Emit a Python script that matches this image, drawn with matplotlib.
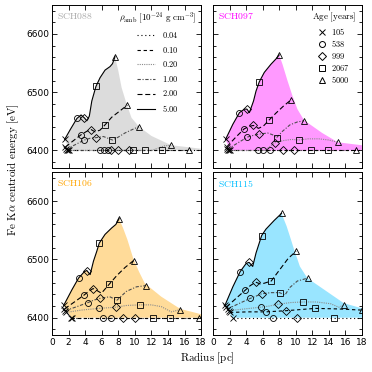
import matplotlib
matplotlib.use('Agg')
import matplotlib.pyplot as plt
from matplotlib.ticker import MultipleLocator

plt.rcParams['mathtext.fontset'] = 'cm'
plt.rcParams['font.size'] = 6.5

DENSITIES = ['0.04', '0.10', '0.20', '1.00', '2.00', '5.00']
AGES = ['105', '538', '999', '2067', '5000']
MARKERS = ['x', 'o', 'D', 's', '^']
MODELS = ['SCH088', 'SCH097', 'SCH106', 'SCH115']
MODEL_COLORS = ['darkgray', 'magenta', 'orange', 'deepskyblue']

# curves: density -> (radius [pc], centroid [eV])
SCH088_CURVES = {
    '5.00': ([1.52, 2.2, 3.0, 3.5, 3.9, 4.2, 4.5, 4.8, 5.3, 5.8, 6.4, 7.0, 7.3, 7.6],
             [6419, 6436, 6455, 6461, 6456, 6451, 6459, 6485, 6510, 6525, 6538, 6544, 6549, 6561]),
    '2.00': ([1.6, 2.5, 3.5, 4.2, 4.7, 5.2, 5.8, 6.4, 7.2, 8.2, 9.1],
             [6406, 6416, 6427, 6433, 6436, 6432, 6435, 6444, 6457, 6468, 6478]),
    '1.00': ([1.7, 2.8, 3.9, 4.6, 5.3, 6.2, 7.3, 8.0, 8.8, 9.7, 10.5],
             [6402, 6410, 6418, 6421, 6422, 6424, 6418, 6423, 6430, 6436, 6441]),
    '0.20': ([1.8, 12.0, 12.8, 13.6, 14.4], [6400, 6400, 6404, 6408, 6409]),
    '0.10': ([1.95, 16.5], [6400, 6400]),
    '0.04': ([2.1, 18.5], [6400, 6400]),
}
SCH088_MARKS = {
    '5.00': ([1.52, 3.0, 3.9, 5.3, 7.6], [6419, 6455, 6456, 6510, 6561]),
    '2.00': ([1.6, 3.5, 4.7, 6.4, 9.1], [6406, 6427, 6436, 6444, 6478]),
    '1.00': ([1.7, 3.9, 5.3, 7.3, 10.5], [6402, 6418, 6422, 6418, 6441]),
    '0.20': ([1.8, 5.8, 7.1, 9.8, 14.4], [6400, 6400, 6400, 6400, 6409]),
    '0.10': ([1.95, 6.3, 8.0, 11.2, 16.5], [6400, 6400, 6400, 6400, 6400]),
    '0.04': ([2.1, 6.8, 9.3, 13.3, 19.5], [6400, 6400, 6400, 6400, 6400]),
}
SCH088_EDGE = ([8.0, 8.4, 9.0, 9.6, 10.5, 12.0, 14.4, 18.0],
               [6537, 6508, 6480, 6456, 6441, 6425, 6409, 6403])

SCH097_CURVES = {
    '5.00': ([1.52, 2.4, 3.2, 3.8, 4.1, 4.4, 4.9, 5.2, 5.6, 6.2, 7.0, 7.6, 8.0],
             [6419, 6445, 6465, 6471, 6471, 6465, 6485, 6502, 6518, 6534, 6548, 6557, 6564]),
    '2.00': ([1.65, 2.7, 3.76, 4.3, 4.88, 5.5, 6.1, 6.76, 7.6, 8.5, 9.44],
             [6406, 6422, 6437, 6441, 6443, 6438, 6442, 6452, 6464, 6476, 6487]),
    '1.00': ([1.75, 3.0, 4.16, 4.9, 5.56, 6.6, 7.2, 7.68, 8.4, 9.3, 10.2, 11.0],
             [6402, 6413, 6423, 6426, 6428, 6430, 6427, 6422, 6433, 6444, 6449, 6451]),
    '0.20': ([1.85, 6.2, 6.8, 7.44, 8.5, 9.5, 10.4, 11.5, 12.8, 14.0, 15.1],
             [6400, 6400, 6406, 6413, 6417, 6419, 6418, 6420, 6420, 6418, 6414]),
    '0.10': ([1.95, 17.3], [6400, 6400]),
    '0.04': ([2.1, 18.5], [6400, 6400]),
}
SCH097_MARKS = {
    '5.00': ([1.52, 3.2, 4.1, 5.6, 8.0], [6419, 6465, 6471, 6518, 6564]),
    '2.00': ([1.65, 3.76, 4.88, 6.76, 9.44], [6406, 6437, 6443, 6452, 6487]),
    '1.00': ([1.75, 4.16, 5.56, 7.68, 11.0], [6402, 6423, 6428, 6422, 6451]),
    '0.20': ([1.85, 5.45, 7.44, 10.4, 15.1], [6400, 6400, 6413, 6418, 6414]),
    '0.10': ([1.95, 6.05, 8.4, 11.85, 17.3], [6400, 6400, 6400, 6400, 6400]),
    '0.04': ([2.1, 6.95, 9.75, 13.9, 19.5], [6400, 6400, 6400, 6400, 6400]),
}
SCH097_EDGE = ([8.4, 9.0, 9.6, 10.2, 11.0, 13.2, 15.1, 18.0],
               [6548, 6520, 6494, 6471, 6452, 6430, 6414, 6409])

SCH106_CURVES = {
    '5.00': ([1.4, 2.4, 3.2, 3.9, 4.2, 4.6, 5.0, 5.4, 5.7, 6.4, 7.2, 7.7, 8.1],
             [6421, 6448, 6468, 6479, 6481, 6474, 6497, 6514, 6528, 6543, 6554, 6560, 6570]),
    '2.00': ([1.5, 2.7, 3.88, 4.4, 4.96, 5.5, 5.96, 6.88, 7.8, 8.8, 9.84],
             [6415, 6427, 6439, 6445, 6450, 6446, 6442, 6457, 6472, 6486, 6498]),
    '1.00': ([1.6, 3.0, 4.36, 5.0, 5.76, 6.96, 7.84, 8.96, 10.2, 11.3],
             [6412, 6419, 6426, 6430, 6433, 6436, 6430, 6445, 6453, 6455]),
    '0.20': ([1.7, 3.5, 5.64, 6.7, 7.68, 9.0, 10.6, 12.0, 13.2, 14.4, 15.5],
             [6409, 6413, 6416, 6417, 6418, 6421, 6422, 6422, 6419, 6410, 6414]),
    '0.10': ([2.25, 17.7], [6400, 6400]),
    '0.04': ([2.35, 18.5], [6400, 6400]),
}
SCH106_MARKS = {
    '5.00': ([1.4, 3.2, 4.2, 5.7, 8.1], [6421, 6468, 6481, 6528, 6570]),
    '2.00': ([1.5, 3.88, 4.96, 6.88, 9.84], [6415, 6439, 6450, 6457, 6498]),
    '1.00': ([1.6, 4.36, 5.76, 7.84, 11.3], [6412, 6426, 6433, 6430, 6455]),
    '0.20': ([1.7, 5.64, 7.68, 10.6, 15.5], [6409, 6416, 6418, 6422, 6414]),
    '0.10': ([2.25, 6.2, 8.6, 12.2, 17.7], [6400, 6400, 6400, 6400, 6400]),
    '0.04': ([2.35, 7.1, 10.0, 14.3, 19.5], [6400, 6400, 6400, 6400, 6400]),
}
SCH106_EDGE = ([8.6, 9.1, 9.8, 10.5, 11.2, 13.2, 15.5, 18.0],
               [6553, 6534, 6502, 6479, 6459, 6436, 6415, 6406])

SCH115_CURVES = {
    '5.00': ([1.44, 2.4, 3.28, 4.0, 4.36, 4.8, 5.2, 5.88, 6.4, 7.4, 8.28],
             [6421, 6453, 6479, 6493, 6495, 6488, 6511, 6541, 6552, 6567, 6579]),
    '2.00': ([1.6, 2.7, 3.88, 4.5, 5.16, 5.7, 6.16, 7.04, 8.2, 9.1, 10.04],
             [6418, 6432, 6447, 6455, 6461, 6458, 6459, 6463, 6485, 6502, 6514]),
    '1.00': ([1.76, 3.1, 4.48, 5.2, 5.88, 7.0, 8.04, 8.7, 9.3, 10.2, 11.48],
             [6415, 6424, 6433, 6437, 6441, 6443, 6443, 6439, 6452, 6463, 6468]),
    '0.20': ([1.9, 3.8, 5.76, 6.8, 7.84, 9.4, 10.9, 12.5, 14.2, 15.2, 15.84],
             [6412, 6415, 6418, 6420, 6423, 6426, 6427, 6427, 6424, 6418, 6422]),
    '0.10': ([2.05, 4.2, 6.36, 8.84, 12.36, 15.2, 18.0],
             [6409, 6410, 6410, 6412, 6416, 6415, 6413]),
    '0.04': ([2.36, 18.5], [6400, 6400]),
}
SCH115_MARKS = {
    '5.00': ([1.44, 3.28, 4.36, 5.88, 8.28], [6421, 6479, 6495, 6541, 6579]),
    '2.00': ([1.6, 3.88, 5.16, 7.04, 10.04], [6418, 6447, 6461, 6463, 6514]),
    '1.00': ([1.76, 4.48, 5.88, 8.04, 11.48], [6415, 6433, 6441, 6443, 6468]),
    '0.20': ([1.9, 5.76, 7.84, 10.9, 15.84], [6412, 6418, 6423, 6427, 6422]),
    '0.10': ([2.05, 6.36, 8.84, 12.36, 18.0], [6409, 6410, 6412, 6416, 6413]),
    '0.04': ([2.36, 7.28, 10.2, 14.64, 19.5], [6400, 6400, 6400, 6400, 6400]),
}
SCH115_EDGE = ([8.9, 9.4, 9.8, 10.5, 11.4, 15.8, 18.0],
               [6557, 6535, 6517, 6488, 6468, 6425, 6416])

LINESTYLES = {
    '0.04': ('k', (0, (1, 2.5))),
    '0.10': ('k', (0, (3, 2.5))),
    '0.20': ('0.55', (0, (1, 1))),
    '1.00': ('0.3', (0, (3, 1.5, 1, 1.5))),
    '2.00': ('k', (0, (4.5, 2.5))),
    '5.00': ('k', '-'),
}


def draw_model(ax, name, color, curves, marks, edge):
    # shaded envelope: 5.00 curve, then the 5000 yr front, back along 6400
    x5, y5 = curves['5.00']
    xs = list(x5) + edge[0] + [18.0, curves['0.04'][0][0]]
    ys = list(y5) + edge[1] + [6400, 6400]
    ax.fill(xs, ys, color=color, alpha=0.4, lw=0, zorder=1)

    for d in DENSITIES:
        c, ls = LINESTYLES[d]
        ax.plot(*curves[d], color=c, ls=ls, lw=0.8, label=d, zorder=2)
        mx, my = marks[d]
        for m, x, y in zip(MARKERS, mx, my):
            size = 3.8 if m == 'D' else 4.3
            ax.plot(x, y, m, ms=size, mfc='none', mec='k', mew=0.6, zorder=3)

    ax.text(0.035, 0.93, r'$\mathrm{%s}$' % name, color=color,
            transform=ax.transAxes, fontsize=7, va='center')


def main():
    fig, axes = plt.subplots(2, 2, figsize=(3.72, 3.72), dpi=100,
                             sharex=True, sharey=True)
    fig.subplots_adjust(left=0.14, right=0.973, top=0.987, bottom=0.099,
                        wspace=0.08, hspace=0.025)

    data = [
        (SCH088_CURVES, SCH088_MARKS, SCH088_EDGE),
        (SCH097_CURVES, SCH097_MARKS, SCH097_EDGE),
        (SCH106_CURVES, SCH106_MARKS, SCH106_EDGE),
        (SCH115_CURVES, SCH115_MARKS, SCH115_EDGE),
    ]
    for ax, name, color, (curves, marks, edge) in zip(axes.flat, MODELS,
                                                      MODEL_COLORS, data):
        draw_model(ax, name, color, curves, marks, edge)
        ax.set_xlim(0, 18)
        ax.set_ylim(6370, 6650)
        ax.xaxis.set_major_locator(MultipleLocator(2))
        ax.yaxis.set_major_locator(MultipleLocator(100))
        ax.yaxis.set_minor_locator(MultipleLocator(20))
        ax.tick_params(which='both', direction='in', top=True, right=True,
                       width=0.6, labelsize=6.5, pad=2)
        ax.tick_params(which='major', length=3.5)
        ax.tick_params(which='minor', length=2)
        for s in ax.spines.values():
            s.set_linewidth(0.7)

    # density legend
    handles, labels = axes[0, 0].get_legend_handles_labels()
    axes[0, 0].legend(handles, [r'$%s$' % l for l in labels],
                      loc='upper right', frameon=False, fontsize=6,
                      title=r'$\rho_\mathrm{amb}\ [10^{-24}\ \mathrm{g\ cm^{-3}}]$',
                      title_fontsize=6.5, handlelength=2.2, labelspacing=0.55,
                      borderaxespad=0.2)

    # age legend
    age_handles = [plt.Line2D([], [], ls='none', marker=m, ms=4.3, mfc='none',
                              mec='k', mew=0.7) for m in MARKERS]
    axes[0, 1].legend(age_handles, [r'$%s$' % a for a in AGES],
                      loc='upper right', frameon=False, fontsize=6,
                      title=r'$\mathrm{Age\ [years]}$', title_fontsize=6.5,
                      handlelength=0.8, handletextpad=0.6, labelspacing=0.2,
                      borderaxespad=0.3)

    fig.text(0.557, 0.03, r'$\mathrm{Radius\ [pc]}$', ha='center', fontsize=8)
    fig.text(0.035, 0.543, r'$\mathrm{Fe\ K}\alpha\ \mathrm{centroid\ energy\ [eV]}$',
             rotation=90, va='center', ha='center', fontsize=8)

    plt.savefig('out.png', dpi=100)


if __name__ == '__main__':
    main()
